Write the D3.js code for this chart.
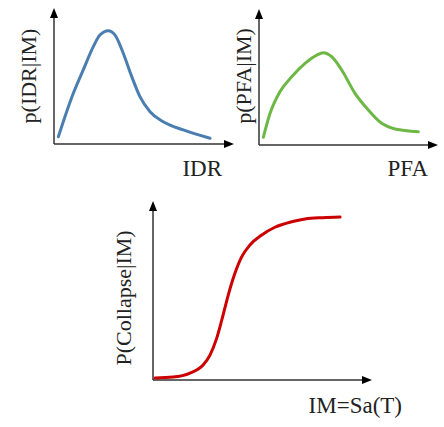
<!DOCTYPE html>
<html>
<head>
<meta charset="utf-8">
<script src="https://cdn.jsdelivr.net/npm/d3@7"></script>
<style>
body{margin:0;background:#fff;}
svg{display:block;}
.lbl{font-family:"Liberation Serif","Times New Roman",serif;font-size:23px;fill:#222;}
.ylbl{font-size:22px;}
</style>
</head>
<body>
<div id="chart"></div>
<script>
// IDR | IM  (blue)
var idrX = [0.25,0.63,1.11,1.68,2.26,2.64,3.12,3.51,3.98,4.47,4.94,5.52,6.28,7.43,8.97];
var idrY = [0.056,0.21,0.39,0.57,0.749,0.838,0.871,0.838,0.698,0.518,0.364,0.248,0.171,0.108,0.044];
// PFA | IM  (green)
var pfaX = [0.25,0.64,1.21,1.89,2.66,3.34,3.72,4.2,4.78,5.55,6.32,7.09,7.86,9.21];
var pfaY = [0.059,0.244,0.41,0.525,0.628,0.692,0.71,0.679,0.577,0.397,0.269,0.167,0.123,0.102];
// collapse fragility (red)
var colX = [0.09,0.93,1.72,2.33,2.65,2.96,3.2,3.5,3.81,4.13,4.51,5.06,5.67,6.45,7.07,7.9,8.7];
var colY = [0.012,0.017,0.04,0.087,0.145,0.242,0.349,0.494,0.62,0.717,0.785,0.843,0.888,0.92,0.936,0.944,0.948];

var panelLabels = ["p(IDR|IM)","p(PFA|IM)","P(Collapse|IM)"];
var axisLabels = ["IDR","PFA","IM=Sa(T)"];

var W = 444, H = 427;
var svg = d3.select("#chart").append("svg").attr("width",W).attr("height",H);

var panels = [
	{xs:idrX, ys:idrY, color:"#4a7db0", x0:54, x1:228, y0:144, y1:14, ytip:8, xtip:234,
	 ylab:{x:36,y:76}, xlab:{x:222,y:176}, i:0},
	{xs:pfaX, ys:pfaY, color:"#6db845", x0:259, x1:432, y0:145, y1:15, ytip:9, xtip:438,
	 ylab:{x:251,y:76}, xlab:{x:428,y:176}, i:1},
	{xs:colX, ys:colY, color:"#cc0000", x0:153, x1:368, y0:380, y1:208, ytip:201, xtip:372,
	 ylab:{x:131,y:298}, xlab:{x:402,y:413}, i:2}
];

panels.forEach(function(p){
	var x = d3.scaleLinear().domain([0,10]).range([p.x0,p.x1]);
	var y = d3.scaleLinear().domain([0,1]).range([p.y0,p.y1]);
	var g = svg.append("g");

	// axes with arrow heads
	g.append("line").attr("x1",x(0)).attr("y1",y(0)).attr("x2",x(0)).attr("y2",p.ytip+8)
		.style("stroke","#333").style("stroke-width",1.5);
	g.append("line").attr("x1",x(0)).attr("y1",y(0)).attr("x2",p.xtip-8).attr("y2",y(0))
		.style("stroke","#333").style("stroke-width",1.5);
	g.append("path")
		.attr("d","M"+(x(0)-4)+","+(p.ytip+10)+"L"+x(0)+","+p.ytip+"L"+(x(0)+4)+","+(p.ytip+10)+"Z")
		.style("fill","#000");
	g.append("path")
		.attr("d","M"+(p.xtip-10)+","+(y(0)-4)+"L"+p.xtip+","+y(0)+"L"+(p.xtip-10)+","+(y(0)+4)+"Z")
		.style("fill","#000");

	var pts = p.xs.map(function(v,k){ return [v,p.ys[k]]; });
	var line = d3.line()
		.x(function(d){ return x(d[0]); })
		.y(function(d){ return y(d[1]); })
		.curve(d3.curveMonotoneX);
	g.append("path").datum(pts).attr("d",line)
		.style("fill","none").style("stroke",p.color).style("stroke-width",3)
		.style("stroke-linecap","round");

	g.append("text").attr("class","lbl ylbl")
		.attr("transform","translate("+p.ylab.x+","+p.ylab.y+") rotate(-90)")
		.attr("text-anchor","middle")
		.text(panelLabels[p.i]);
	g.append("text").attr("class","lbl")
		.attr("x",p.xlab.x).attr("y",p.xlab.y)
		.attr("text-anchor","end")
		.text(axisLabels[p.i]);
});
</script>
</body>
</html>
